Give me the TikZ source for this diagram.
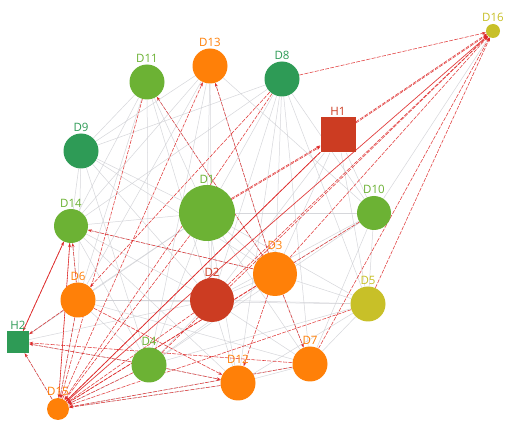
\documentclass[tikz,border=0pt]{standalone}
\usepackage{fontspec}
\setmainfont{Open Sans}
\usetikzlibrary{arrows.meta,backgrounds}
\definecolor{lgreen}{RGB}{108,178,52}
\definecolor{dgreen}{RGB}{46,155,86}
\definecolor{orng}{RGB}{255,128,8}
\definecolor{rd}{RGB}{204,60,34}
\definecolor{ylw}{RGB}{200,192,40}
\definecolor{redge}{RGB}{222,40,40}
\definecolor{gedge}{RGB}{204,205,210}
\begin{document}
\begin{tikzpicture}[x=1pt,y=-1pt,
  dot/.style={circle,inner sep=0pt,minimum size=#1},
  sqr/.style={rectangle,inner sep=0pt,minimum size=#1},
  lbl/.style={text=#1,font=\fontsize{11.5}{13}\selectfont,inner sep=1pt,label distance=0.5pt},
  gline/.style={draw=gedge,line width=0.5pt,opacity=0.8},
  rline/.style={draw=redge,line width=0.55pt,dash pattern=on 4pt off 1.3pt,opacity=0.9,-{Stealth[length=4pt,width=3pt]}},
  rsolid/.style={draw=redge,line width=0.7pt,opacity=0.9,-{Stealth[length=4pt,width=3pt]}}]
\useasboundingbox (0,0) rectangle (507,425);
% nodes
\node[dot=14pt,fill=ylw,label={[lbl=ylw]above:D16}] (D16) at (493,31) {};
\node[dot=35pt,fill=orng,label={[lbl=orng]above:D13}] (D13) at (210,66) {};
\node[dot=35pt,fill=lgreen,label={[lbl=lgreen]above:D11}] (D11) at (147,82) {};
\node[dot=35pt,fill=dgreen,label={[lbl=dgreen]above:D8}] (D8) at (282,79) {};
\node[sqr=35pt,fill=rd,label={[lbl=rd]above:H1}] (H1) at (338,135) {};
\node[dot=35pt,fill=dgreen,label={[lbl=dgreen]above:D9}] (D9) at (81,151) {};
\node[dot=56pt,fill=lgreen,label={[lbl=lgreen]above:D1}] (D1) at (207,213) {};
\node[dot=34pt,fill=lgreen,label={[lbl=lgreen]above:D10}] (D10) at (374,213) {};
\node[dot=34pt,fill=lgreen,label={[lbl=lgreen]above:D14}] (D14) at (71,226) {};
\node[dot=44pt,fill=orng,label={[lbl=orng]above:D3}] (D3) at (275,274) {};
\node[dot=44pt,fill=rd,label={[lbl=rd]above:D2}] (D2) at (212,300) {};
\node[dot=35pt,fill=orng,label={[lbl=orng]above:D6}] (D6) at (78,300) {};
\node[dot=35pt,fill=ylw,label={[lbl=ylw]above:D5}] (D5) at (368,304) {};
\node[sqr=22pt,fill=dgreen,label={[lbl=dgreen]above:H2}] (H2) at (18,342) {};
\node[dot=35pt,fill=lgreen,label={[lbl=lgreen]above:D4}] (D4) at (149,365) {};
\node[dot=35pt,fill=orng,label={[lbl=orng]above:D12}] (D12) at (238,383) {};
\node[dot=35pt,fill=orng,label={[lbl=orng]above:D7}] (D7) at (310,364) {};
\node[dot=22pt,fill=orng,label={[lbl=orng]above:D15}] (D15) at (58,409) {};
% edges
\begin{scope}[on background layer]
\fill[white] (0,0) rectangle (507,425);
\foreach \a/\b in {D11/D9,D11/D14,D11/D6,D11/D1,D11/D2,D11/D3,D11/D4,
  D13/D9,D13/D14,D13/D1,D13/D2,D13/D3,D13/D10,D13/D6,D13/D4,
  D8/D9,D8/D1,D8/D2,D8/D3,D8/D10,D8/D5,D8/D14,D8/D12,D8/D7,
  H1/D10,H1/D3,H1/D2,H1/D5,
  D9/D14,D9/D6,D9/D1,D9/D3,D9/D2,D9/D4,
  D1/D14,D1/D6,D1/D3,D1/D2,D1/D10,D1/D5,D1/D4,D1/D12,D1/D7,D1/H2,
  D10/D3,D10/D5,D10/D2,D10/D7,D10/D4,D10/D16,
  D14/D6,D14/D2,D14/D3,D14/D4,D14/D12,
  D6/D2,D6/D5,D6/D4,D6/H2,D6/D15,D6/D7,
  D3/D2,D3/D5,D3/D4,D3/D7,
  D2/D5,D2/D4,D2/D12,D2/D7,D2/H2,
  D5/D7,D5/D12,D5/D4,D4/D12,D4/D15,D4/H2,D12/D7,D12/D15,D7/D15,H2/D15}
  \draw[gline] (\a) -- (\b);
% red arrows
\foreach \a/\b in {D8/D16,D2/D16,D3/D16,D4/D16,D7/D16,D5/D16,
  D6/D15,D14/D15,D11/D15,D8/D15,D8/D6,D1/D15,H1/D15,D2/D15,D3/D15,D4/D15,D12/D15,D5/D15,D7/D15,D10/D15,
  D14/H2,D6/H2,D4/H2,D7/H2,D15/H2,
  D3/D14,D6/D14,D15/D14,
  D6/D12,D4/D12,D3/D12,D3/D7,
  D3/D13,D15/D13,D3/D11}
  \draw[rline] (\a) -- (\b);
\draw[rsolid] (D15) -- (D16);
\draw[rsolid] (H2) -- (D14);
\draw[rline] (D1) -- (H1);
\draw[rline,transform canvas={yshift=-1.2pt}] (D1) -- (H1);
\draw[rline] (H1) -- (D16);
\draw[rline,transform canvas={yshift=1.2pt}] (H1) -- (D16);
\draw[rsolid] (H1) -- (D15);
\end{scope}
\end{tikzpicture}
\end{document}
